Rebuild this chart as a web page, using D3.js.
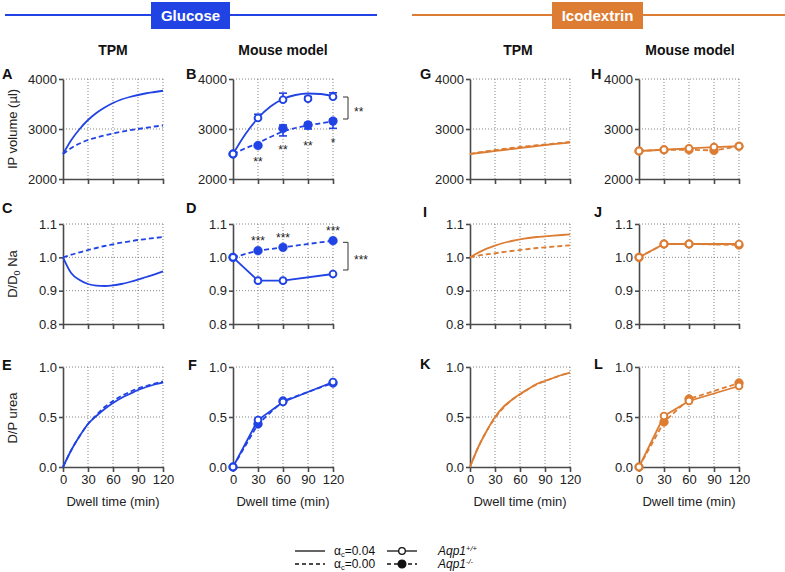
<!DOCTYPE html>
<html><head><meta charset="utf-8">
<script src="https://cdn.jsdelivr.net/npm/d3@7"></script>
<style>
body{margin:0;background:#fff;}
text{font-family:"Liberation Sans",Arial,sans-serif;}
</style></head>
<body><svg id="c" width="785" height="572"></svg>
<script>
// ---------- DATA ----------
const tModel = [0,10,20,30,40,50,60,70,80,90,100,110,120];
// Glucose TPM
const glcVol04 = [2500,2780,3000,3180,3320,3430,3520,3590,3640,3680,3715,3740,3765];
const glcVol00 = [2500,2620,2710,2780,2830,2875,2910,2945,2975,3000,3025,3050,3070];
const glcNa04  = [1.0,0.952,0.932,0.920,0.915,0.914,0.916,0.920,0.926,0.933,0.941,0.949,0.958];
const glcNa00  = [1.0,1.008,1.015,1.022,1.028,1.034,1.039,1.044,1.048,1.052,1.055,1.058,1.061];
const glcUrea04= [0,0.17,0.31,0.43,0.51,0.58,0.64,0.69,0.73,0.77,0.80,0.825,0.845];
const glcUrea00= [0,0.17,0.31,0.43,0.52,0.60,0.66,0.71,0.75,0.785,0.81,0.835,0.855];
// Icodextrin TPM
const icoVol04 = [2500,2520,2540,2560,2580,2600,2620,2640,2660,2680,2697,2714,2730];
const icoVol00 = [2500,2530,2555,2580,2600,2620,2640,2658,2675,2690,2707,2724,2740];
const icoNa04  = [1.0,1.014,1.026,1.035,1.043,1.049,1.054,1.058,1.061,1.063,1.065,1.067,1.069];
const icoNa00  = [1.0,1.005,1.009,1.012,1.016,1.019,1.022,1.025,1.028,1.030,1.032,1.034,1.036];
const icoUrea04= [0,0.20,0.36,0.50,0.60,0.67,0.73,0.78,0.83,0.86,0.89,0.92,0.945];
const icoUrea00= [0,0.20,0.36,0.49,0.59,0.67,0.725,0.78,0.825,0.86,0.89,0.92,0.945];
// Mouse model
const tMouse5 = [0,30,60,90,120];
const tMouse4 = [0,30,60,120];
const glcVolWT   = [2500,3220,3585,3605,3645];
const glcVolWThi = [2500,3296,3717,3650,3724];
const glcVolKO   = [2500,2670,3013,3080,3158];
const glcVolKOlo = [2500,2640,2862,3000,3013];
const glcVolKOhi = [2500,2700,3080,3130,3200];
const tFit = [0,15,30,45,60,75,90,105,120];
const glcVolWTfit = [2500,2900,3220,3450,3600,3680,3710,3700,3660];
const glcVolKOfit = [2500,2615,2720,2840,2950,3020,3070,3115,3150];
const glcNaWT   = [1.0,0.93,0.93,0.95];
const glcNaKO   = [1.0,1.02,1.03,1.05];
const glcUreaWT = [0,0.47,0.65,0.85];
const glcUreaKO = [0,0.43,0.66,0.84];
const icoVolWT  = [2560,2585,2612,2638,2655];
const icoVolKO  = [2560,2585,2585,2572,2655];
const icoNaWT   = [1.0,1.04,1.04,1.04];
const icoNaKO   = [1.0,1.04,1.04,1.037];
const icoUreaWT = [0,0.51,0.66,0.81];
const icoUreaKO = [0,0.45,0.68,0.84];
// significance marks (anchored at data values)
const starsB = [{t:30,v:2260,s:"**"},{t:60,v:2500,s:"**"},{t:90,v:2580,s:"**"},{t:120,v:2640,s:"*"}];
const starsD = [{t:30,v:1.036,s:"***"},{t:60,v:1.045,s:"***"},{t:120,v:1.066,s:"***"}];
const volTicks = [2000,3000,4000];
const naTicks = [0.8,0.9,1.0,1.1];
const ureaTicks = [0.0,0.5,1.0];
const xTicks = [0,30,60,90,120];

// ---------- STYLE ----------
const BLUE = "#2143e4", ORANGE = "#dc7d33", AX = "#4a4a4a";
const svg = d3.select("#c");
const W = 100, H = 100;
const colX = [63,233,470,639];
const rowY = [79,224,367];

function panel(ci, ri, dom, ticks, fmt, color) {
  const g = svg.append("g").attr("transform",`translate(${colX[ci]},${rowY[ri]})`);
  const x = d3.scaleLinear([0,120],[0,W]);
  const y = d3.scaleLinear(dom,[H,0]);
  g.selectAll(".gx").data(xTicks.slice(1)).join("line")
    .attr("x1",d=>x(d)).attr("x2",d=>x(d)).attr("y1",0).attr("y2",H)
    .attr("stroke","#777").attr("stroke-width",0.9).attr("stroke-dasharray","1,2");
  g.selectAll(".gy").data(ticks.slice(1)).join("line")
    .attr("x1",0).attr("x2",W).attr("y1",d=>y(d)).attr("y2",d=>y(d))
    .attr("stroke","#777").attr("stroke-width",0.9).attr("stroke-dasharray","1,2");
  const ya = g.append("g").call(d3.axisLeft(y).tickValues(ticks).tickSize(4).tickSizeOuter(0).tickPadding(2).tickFormat(fmt));
  const xa = g.append("g").attr("transform",`translate(0,${H})`)
    .call(d3.axisBottom(x).tickValues(xTicks).tickSize(5).tickSizeOuter(0).tickPadding(3)
      .tickFormat(ri===2 ? d3.format("d") : ""));
  [ya,xa].forEach(a=>{
    a.selectAll("path,line").attr("stroke",AX).attr("stroke-width",1.6);
    a.selectAll("text").attr("font-size",13).attr("fill","#222").attr("font-family","Liberation Sans,Arial,sans-serif");
  });
  if (ri===2) {
    g.append("text").attr("x",W/2).attr("y",H+39).attr("text-anchor","middle")
      .attr("font-size",13).attr("fill","#222").text("Dwell time (min)");
  }
  return {g,x,y,color};
}

function curve(p, ts, vs, dashed, cf) {
  const line = d3.line().x((d,i)=>p.x(ts[i])).y(d=>p.y(d)).curve(cf || d3.curveMonotoneX);
  p.g.append("path").attr("d",line(vs)).attr("fill","none").attr("stroke",p.color)
    .attr("stroke-width",1.8).attr("stroke-dasharray",dashed?"5,3":null);
}
function points(p, ts, vs, open) {
  p.g.selectAll(null).data(vs).join("circle")
    .attr("cx",(d,i)=>p.x(ts[i])).attr("cy",d=>p.y(d))
    .attr("r",open?3.4:4.4).attr("fill",open?"#fff":p.color)
    .attr("stroke",p.color).attr("stroke-width",open?1.9:0.5);
}
function errbars(p, ts, from, to) {
  ts.forEach((t,i)=>{
    if (Math.abs(from[i]-to[i])<5) return;
    const cx=p.x(t);
    p.g.append("line").attr("x1",cx).attr("x2",cx).attr("y1",p.y(from[i])).attr("y2",p.y(to[i]))
      .attr("stroke",p.color).attr("stroke-width",1.6);
    p.g.append("line").attr("x1",cx-4).attr("x2",cx+4).attr("y1",p.y(to[i])).attr("y2",p.y(to[i]))
      .attr("stroke",p.color).attr("stroke-width",1.6);
  });
}
function stars(p, arr) {
  arr.forEach(s=>{
    p.g.append("text").attr("x",p.x(s.t)).attr("y",p.y(s.v)).attr("text-anchor","middle")
      .attr("font-size",12).attr("fill","#222").text(s.s);
  });
}
function bracket(p, v1, v2, lab) {
  const bx = W+15, y1=p.y(v1), y2=p.y(v2);
  p.g.append("path").attr("d",`M${bx-5},${y1}H${bx}V${y2}H${bx-5}`)
    .attr("fill","none").attr("stroke","#333").attr("stroke-width",1);
  p.g.append("text").attr("x",bx+6).attr("y",(y1+y2)/2+8).attr("font-size",12).attr("fill","#222").text(lab);
}

const f0 = d3.format("d"), f1 = d3.format(".1f");
let p = panel(0,0,[2000,4000],volTicks,f0,BLUE);
curve(p,tModel,glcVol04,false); curve(p,tModel,glcVol00,true);
p = panel(0,1,[0.8,1.1],naTicks,f1,BLUE);
curve(p,tModel,glcNa04,false); curve(p,tModel,glcNa00,true);
p = panel(0,2,[0,1],ureaTicks,f1,BLUE);
curve(p,tModel,glcUrea04,false); curve(p,tModel,glcUrea00,true);
p = panel(1,0,[2000,4000],volTicks,f0,BLUE);
curve(p,tFit,glcVolWTfit,false); curve(p,tFit,glcVolKOfit,true);
errbars(p,tMouse5,glcVolWT,glcVolWThi);
errbars(p,tMouse5,glcVolKO,glcVolKOlo); errbars(p,tMouse5,glcVolKO,glcVolKOhi);
points(p,tMouse5,glcVolKO,false); points(p,tMouse5,glcVolWT,true);
stars(p,starsB); bracket(p,3640,3200,"**");
p = panel(1,1,[0.8,1.1],naTicks,f1,BLUE);
curve(p,tMouse4,glcNaWT,false,d3.curveLinear); curve(p,tMouse4,glcNaKO,true,d3.curveLinear);
points(p,tMouse4,glcNaKO,false); points(p,tMouse4,glcNaWT,true);
stars(p,starsD); bracket(p,1.045,0.962,"***");
p = panel(1,2,[0,1],ureaTicks,f1,BLUE);
curve(p,tMouse4,glcUreaWT,false,d3.curveLinear); curve(p,tMouse4,glcUreaKO,true,d3.curveLinear);
points(p,tMouse4,glcUreaKO,false); points(p,tMouse4,glcUreaWT,true);
p = panel(2,0,[2000,4000],volTicks,f0,ORANGE);
curve(p,tModel,icoVol04,false); curve(p,tModel,icoVol00,true);
p = panel(2,1,[0.8,1.1],naTicks,f1,ORANGE);
curve(p,tModel,icoNa04,false); curve(p,tModel,icoNa00,true);
p = panel(2,2,[0,1],ureaTicks,f1,ORANGE);
curve(p,tModel,icoUrea04,false); curve(p,tModel,icoUrea00,true);
p = panel(3,0,[2000,4000],volTicks,f0,ORANGE);
curve(p,tMouse5,icoVolWT,false,d3.curveLinear); curve(p,tMouse5,icoVolKO,true,d3.curveLinear);
points(p,tMouse5,icoVolKO,false); points(p,tMouse5,icoVolWT,true);
p = panel(3,1,[0.8,1.1],naTicks,f1,ORANGE);
curve(p,tMouse4,icoNaWT,false,d3.curveLinear); curve(p,tMouse4,icoNaKO,true,d3.curveLinear);
points(p,tMouse4,icoNaKO,false); points(p,tMouse4,icoNaWT,true);
p = panel(3,2,[0,1],ureaTicks,f1,ORANGE);
curve(p,tMouse4,icoUreaWT,false,d3.curveLinear); curve(p,tMouse4,icoUreaKO,true,d3.curveLinear);
points(p,tMouse4,icoUreaKO,false); points(p,tMouse4,icoUreaWT,true);

// ---------- BANNERS ----------
function banner(x1,x2,bx,bw,color,label){
  svg.append("line").attr("x1",x1).attr("x2",x2).attr("y1",15).attr("y2",15).attr("stroke",color).attr("stroke-width",2);
  svg.append("rect").attr("x",bx).attr("y",2).attr("width",bw).attr("height",27).attr("fill",color);
  svg.append("text").attr("x",bx+bw/2).attr("y",21).attr("text-anchor","middle").attr("fill","#fff")
    .attr("font-size",15).attr("font-weight","bold").text(label);
}
banner(5,377,151,79,BLUE,"Glucose");
banner(412,785,552,91,ORANGE,"Icodextrin");

[["TPM",113],["Mouse model",283],["TPM",518],["Mouse model",690]].forEach(d=>{
  svg.append("text").attr("x",d[1]).attr("y",55).attr("text-anchor","middle")
    .attr("font-size",14).attr("font-weight","bold").attr("fill","#111").text(d[0]);
});
const letters = [["A",2,79],["B",186,79],["G",420,79],["H",591,79],
                 ["C",2,213],["D",186,213],["I",423,217],["J",594,217],
                 ["E",2,370],["F",188,370],["K",420,369],["L",594,369]];
letters.forEach(d=>svg.append("text").attr("x",d[1]).attr("y",d[2]).attr("font-size",14.5)
  .attr("font-weight","bold").attr("fill","#111").text(d[0]));

function ylab(cy, build){
  const t = svg.append("text").attr("transform",`translate(17,${cy}) rotate(-90)`)
    .attr("text-anchor","middle").attr("font-size",13).attr("fill","#222");
  build(t);
}
ylab(129,t=>t.text("IP volume (µl)"));
ylab(274,t=>{t.append("tspan").text("D/D");t.append("tspan").attr("font-size",9).attr("dy",3).text("0");
  t.append("tspan").attr("dy",-3).text(" Na");});
ylab(418,t=>t.text("D/P urea"));

// ---------- LEGEND ----------
const lg = svg.append("g");
const LF = 12;
function legAlpha(y, dashed, val){
  lg.append("line").attr("x1",295).attr("x2",325).attr("y1",y).attr("y2",y).attr("stroke","#111")
    .attr("stroke-width",1.3).attr("stroke-dasharray",dashed?"4,3":null);
  const t = lg.append("text").attr("x",334).attr("y",y+4).attr("font-size",LF).attr("fill","#111");
  t.append("tspan").text("α"); t.append("tspan").attr("font-size",7.5).attr("dy",2).text("c");
  t.append("tspan").attr("dy",-2).text("="+val);
}
legAlpha(551,false,"0.04"); legAlpha(564,true,"0.00");
function legGeno(y, dashed, open, sup){
  lg.append("line").attr("x1",387).attr("x2",417).attr("y1",y).attr("y2",y).attr("stroke","#111")
    .attr("stroke-width",1.3).attr("stroke-dasharray",dashed?"4,3":null);
  lg.append("circle").attr("cx",402).attr("cy",y).attr("r",open?3.3:3.9).attr("fill",open?"#fff":"#111")
    .attr("stroke","#111").attr("stroke-width",1.3);
  const t = lg.append("text").attr("x",438).attr("y",y+4).attr("font-size",LF).attr("fill","#111").attr("font-style","italic");
  t.append("tspan").text("Aqp1"); t.append("tspan").attr("font-size",7.5).attr("dy",-4.5).text(sup);
}
legGeno(551,false,true,"+/+"); legGeno(564,true,false,"-/-");
</script></body></html>
